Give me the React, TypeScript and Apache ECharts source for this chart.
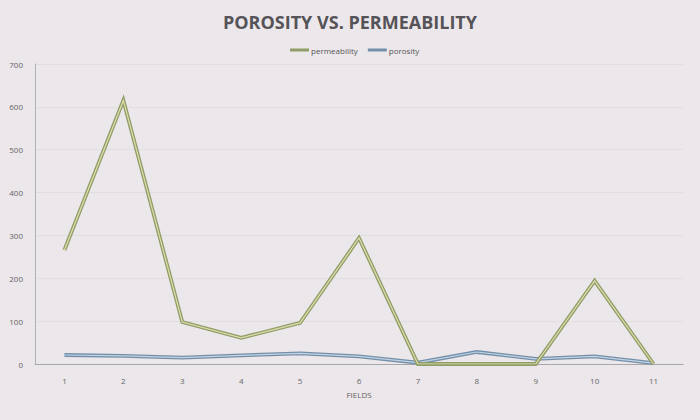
import React, { useEffect, useRef } from "react";
import * as echarts from "echarts";

const fields = ["1", "2", "3", "4", "5", "6", "7", "8", "9", "10", "11"];
const permeability = [266, 615, 98, 61, 96, 294, 0, 0, 0, 194, 0];
const porosity = [21, 19, 15, 20, 25, 18, 3, 28, 12, 18, 2];
const yTicks = [0, 100, 200, 300, 400, 500, 600, 700];

const PERM_OUT = "#8f9d66";
const PERM_IN = "#e2dcae";
const POR_OUT = "#7390ab";
const POR_IN = "#c4d3e2";

export default function App() {
  const ref = useRef<HTMLDivElement>(null);
  useEffect(() => {
    const chart = echarts.init(ref.current!, null, { renderer: "svg" });
    const mk = (name: string, data: number[], color: string, width: number, z: number) => ({
      name,
      type: "line",
      data,
      symbol: "none",
      z,
      lineStyle: { color, width, join: "miter" },
      itemStyle: { color },
    });
    chart.setOption({
      animation: false,
      backgroundColor: "#ece7ea",
      title: {
        text: "POROSITY VS. PERMEABILITY",
        left: "center",
        top: 8,
        textStyle: {
          fontFamily: "Open Sans",
          fontWeight: "bold",
          fontSize: 18,
          color: "#555358",
        },
      },
      legend: {
        top: 41,
        left: 285,
        data: ["permeability", "porosity"],
        icon: "rect",
        itemWidth: 19,
        itemHeight: 3,
        itemGap: 10,
        textStyle: { fontFamily: "Open Sans", fontSize: 8, color: "#555", padding: [0, 0, 0, -3] },
      },
      grid: { left: 35, right: 17, top: 64, bottom: 56 },
      xAxis: {
        type: "category",
        data: fields,
        name: "FIELDS",
        nameLocation: "middle",
        nameGap: 26,
        nameTextStyle: { fontFamily: "Open Sans", fontSize: 8, color: "#666" },
        axisLine: { lineStyle: { color: "#a8a8ab", width: 1 } },
        axisTick: { show: false },
        axisLabel: { fontFamily: "Open Sans", fontSize: 8, color: "#666", margin: 12 },
      },
      yAxis: {
        type: "value",
        min: 0,
        max: 700,
        interval: 100,
        axisLine: { show: true, lineStyle: { color: "#b2b2b6" } },
        axisTick: { show: false },
        splitLine: { show: true, lineStyle: { color: "#e2dde0", width: 1 } },
        axisLabel: {
          fontFamily: "Open Sans",
          fontSize: 8,
          color: "#666",
          margin: 12,
          formatter: (v: number) => (yTicks.includes(v) ? String(v) : ""),
        },
      },
      series: [
        mk("permeability", permeability, PERM_OUT, 3.8, 3),
        mk("permeability ", permeability, PERM_IN, 1.2, 4),
        mk("porosity", porosity, POR_OUT, 3.8, 1),
        mk("porosity ", porosity, POR_IN, 1.2, 2),
      ],
    });
    return () => chart.dispose();
  }, []);
  return (
    <div
      ref={ref}
      style={{ width: 700, height: 420, position: "fixed", left: 0, top: 0 }}
    />
  );
}
